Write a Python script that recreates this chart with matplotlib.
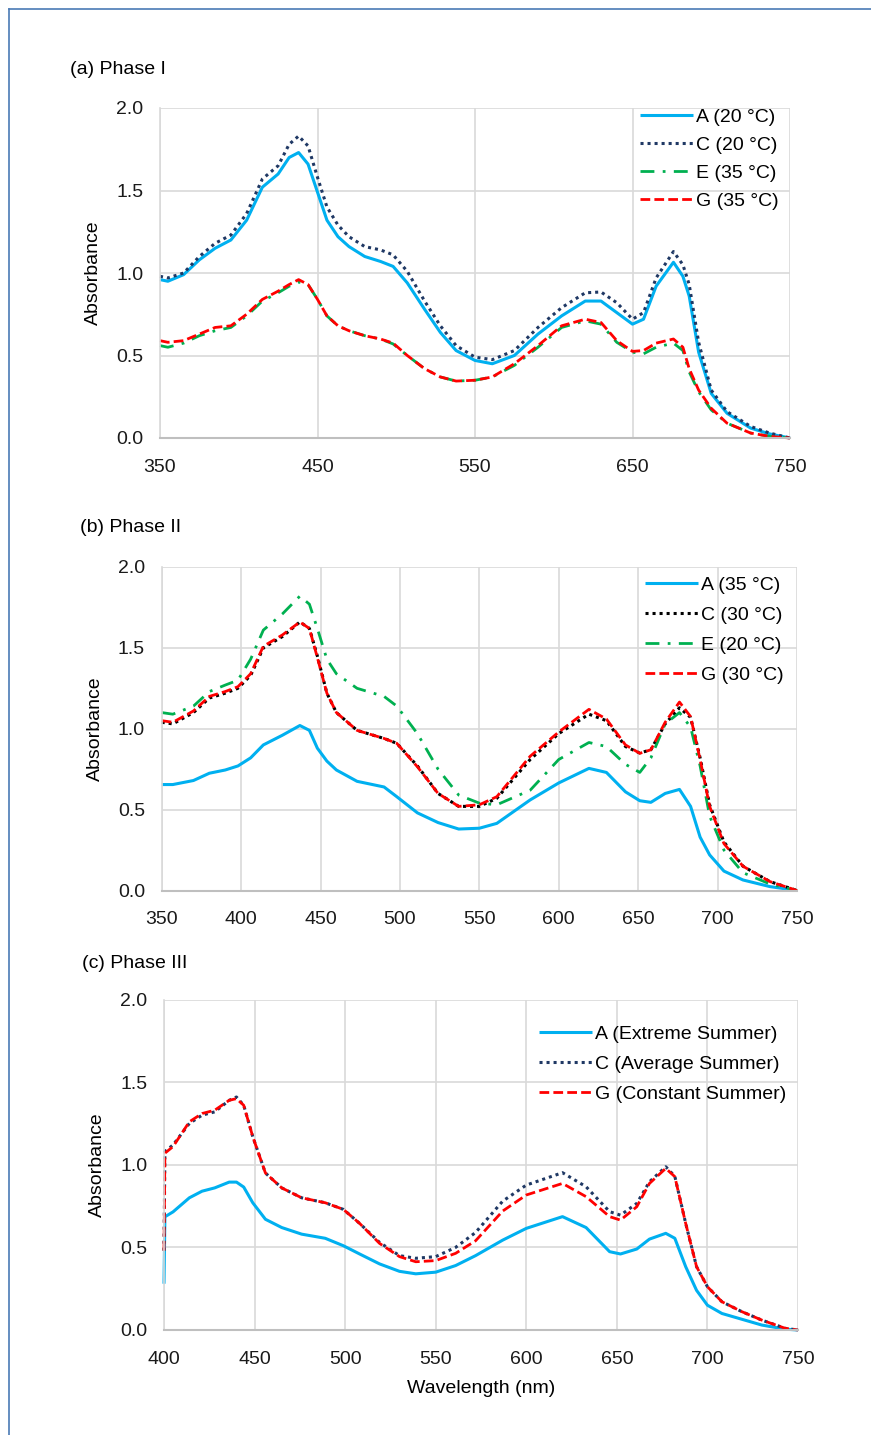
import matplotlib
matplotlib.use("Agg")
import matplotlib.pyplot as plt
from matplotlib.lines import Line2D

plt.rcParams['font.family'] = ['Liberation Sans', 'DejaVu Sans']
plt.rcParams['font.size'] = 14

# ---- Phase I data ----
wl_a = [350, 355, 365, 375, 385, 395, 405, 415, 425, 432, 438, 444, 450, 456, 463, 470,
        480, 490, 498, 507, 518, 528, 538, 550, 561, 575, 590, 605, 620, 630, 640, 650,
        657, 665, 676, 682, 686, 692, 700, 710, 725, 737, 750]
a_A = [0.96, 0.95, 0.99, 1.08, 1.15, 1.20, 1.32, 1.52, 1.60, 1.70, 1.73, 1.66, 1.49, 1.32,
       1.22, 1.16, 1.10, 1.07, 1.04, 0.94, 0.78, 0.64, 0.53, 0.47, 0.45, 0.50, 0.63, 0.74,
       0.83, 0.83, 0.76, 0.69, 0.72, 0.92, 1.065, 0.98, 0.86, 0.52, 0.27, 0.15, 0.06, 0.025, 0.0]
a_C = [0.98, 0.97, 1.00, 1.10, 1.18, 1.23, 1.36, 1.57, 1.65, 1.78, 1.83, 1.77, 1.58, 1.40,
       1.29, 1.22, 1.16, 1.14, 1.11, 1.01, 0.83, 0.68, 0.56, 0.49, 0.475, 0.53, 0.67, 0.79,
       0.88, 0.885, 0.82, 0.72, 0.76, 0.97, 1.13, 1.05, 0.93, 0.58, 0.29, 0.16, 0.07, 0.03, 0.0]
a_E = [0.56, 0.55, 0.575, 0.62, 0.65, 0.67, 0.74, 0.83, 0.88, 0.92, 0.945, 0.93, 0.84, 0.74,
       0.68, 0.65, 0.62, 0.60, 0.57, 0.50, 0.42, 0.37, 0.345, 0.35, 0.37, 0.44, 0.55, 0.67,
       0.71, 0.69, 0.58, 0.52, 0.51, 0.55, 0.575, 0.53, 0.40, 0.28, 0.17, 0.09, 0.03, 0.01, 0.0]
a_G = [0.59, 0.58, 0.59, 0.63, 0.67, 0.68, 0.75, 0.84, 0.89, 0.93, 0.96, 0.93, 0.84, 0.74,
       0.68, 0.65, 0.62, 0.60, 0.575, 0.50, 0.42, 0.37, 0.345, 0.35, 0.37, 0.45, 0.56, 0.68,
       0.72, 0.70, 0.59, 0.525, 0.53, 0.575, 0.60, 0.55, 0.42, 0.29, 0.18, 0.09, 0.03, 0.01, 0.0]

# ---- Phase II data ----
wl_b = [350, 357, 370, 380, 390, 398, 406, 414, 426, 437, 443, 448, 454, 460, 473, 490,
        498, 511, 524, 537, 550, 561, 582, 600, 619, 630, 642, 651, 658, 667, 676, 683,
        689, 695, 704, 716, 733, 750]
b_A = [0.655, 0.655, 0.68, 0.725, 0.745, 0.77, 0.82, 0.90, 0.96, 1.02, 0.99, 0.88, 0.80,
       0.745, 0.675, 0.64, 0.58, 0.48, 0.42, 0.38, 0.385, 0.415, 0.56, 0.665, 0.755, 0.73,
       0.61, 0.555, 0.545, 0.60, 0.625, 0.52, 0.33, 0.22, 0.12, 0.065, 0.024, 0.0]
b_C = [1.04, 1.03, 1.10, 1.19, 1.22, 1.25, 1.33, 1.50, 1.57, 1.66, 1.62, 1.45, 1.22, 1.10,
       0.99, 0.94, 0.91, 0.77, 0.60, 0.52, 0.52, 0.57, 0.81, 0.97, 1.09, 1.05, 0.89, 0.85,
       0.87, 1.03, 1.13, 1.07, 0.82, 0.53, 0.30, 0.15, 0.055, 0.0]
b_E = [1.10, 1.09, 1.14, 1.23, 1.27, 1.30, 1.43, 1.61, 1.71, 1.82, 1.77, 1.62, 1.43, 1.34,
       1.25, 1.20, 1.14, 0.97, 0.75, 0.59, 0.54, 0.53, 0.62, 0.81, 0.915, 0.89, 0.78, 0.73,
       0.82, 1.03, 1.10, 1.01, 0.77, 0.46, 0.25, 0.11, 0.04, 0.0]
b_G = [1.05, 1.04, 1.11, 1.20, 1.23, 1.26, 1.34, 1.51, 1.58, 1.66, 1.62, 1.44, 1.22, 1.10,
       0.99, 0.94, 0.91, 0.765, 0.60, 0.52, 0.53, 0.58, 0.83, 0.98, 1.12, 1.06, 0.90, 0.848,
       0.87, 1.04, 1.165, 1.075, 0.81, 0.52, 0.29, 0.15, 0.055, 0.0]

# ---- Phase III data ----
wl_c = [400, 400.5, 405, 414, 421, 428, 436, 440, 444, 449, 456, 465, 476, 489, 499, 508,
        519, 530, 539, 550, 561, 572, 587, 600, 620, 633, 646, 652, 661, 668, 677, 682,
        688, 694, 700, 708, 719, 730, 743, 750]
c_A = [0.28, 0.685, 0.715, 0.80, 0.84, 0.86, 0.895, 0.895, 0.865, 0.77, 0.67, 0.62, 0.58,
       0.555, 0.51, 0.46, 0.40, 0.355, 0.34, 0.35, 0.39, 0.45, 0.544, 0.615, 0.686, 0.62,
       0.474, 0.46, 0.49, 0.55, 0.585, 0.555, 0.383, 0.24, 0.15, 0.10, 0.065, 0.03, 0.005, 0.0]
c_C = [0.48, 1.08, 1.12, 1.25, 1.30, 1.32, 1.39, 1.41, 1.36, 1.17, 0.95, 0.86, 0.80, 0.77,
       0.73, 0.645, 0.53, 0.45, 0.434, 0.444, 0.50, 0.59, 0.78, 0.877, 0.952, 0.867, 0.716,
       0.695, 0.766, 0.897, 0.988, 0.93, 0.645, 0.383, 0.262, 0.171, 0.111, 0.06, 0.01, 0.0]
c_G = [0.48, 1.07, 1.11, 1.26, 1.31, 1.33, 1.39, 1.40, 1.36, 1.17, 0.95, 0.86, 0.80, 0.77,
       0.73, 0.645, 0.524, 0.444, 0.413, 0.42, 0.464, 0.54, 0.72, 0.817, 0.887, 0.807, 0.686,
       0.665, 0.746, 0.887, 0.978, 0.928, 0.645, 0.383, 0.262, 0.171, 0.111, 0.06, 0.01, 0.0]

CYAN = '#00b0f0'
NAVY = '#1f3864'
GREEN = '#00b050'
RED = '#ff0000'

W, H = 871, 1435
fig = plt.figure(figsize=(W / 100, H / 100), dpi=100)


def box(l, r, t, b):
    return [l / W, 1 - b / H, (r - l) / W, (b - t) / H]


def style(ax, xmin, xmax, xstep):
    ax.set_xlim(xmin, xmax)
    ax.set_ylim(0, 2.0)
    ax.set_xticks(range(xmin, xmax + 1, xstep))
    ax.set_yticks([0.0, 0.5, 1.0, 1.5, 2.0])
    ax.set_yticklabels(['0.0', '0.5', '1.0', '1.5', '2.0'])
    ax.grid(True, color='#d9d9d9', lw=1.2)
    ax.set_axisbelow(True)
    for s in ['top', 'right']:
        ax.spines[s].set_visible(False)
    ax.spines['left'].set_color('#d9d9d9')
    ax.spines['bottom'].set_color('#bfbfbf')
    ax.spines['left'].set_linewidth(1.2)
    ax.spines['bottom'].set_linewidth(1.5)
    ax.tick_params(length=0, labelsize=14, colors='#1a1a1a')
    ax.tick_params(axis='x', pad=15)
    ax.tick_params(axis='y', pad=12)
    ax.set_ylabel('Absorbance', fontsize=14, labelpad=10)


def draw(ax, x, series):
    for y, c, ls, lw in series:
        ax.plot(x, y, color=c, linestyle=ls, lw=lw, clip_on=False)


solid = (0, ())
dotted = (0, (1, 1.3))
dashdot = (0, (5, 3, 1, 3))
dashed = (0, (3.5, 1.5))


def legend(ax, handles, labels, anchor_px, spacing):
    # anchor_px: figure pixel (left of handle, top of first row)
    x = anchor_px[0] / W
    y = 1 - anchor_px[1] / H
    lg = ax.legend(handles, labels, loc='upper left', bbox_to_anchor=(x, y),
                   bbox_transform=fig.transFigure,
                   frameon=False, fontsize=14, handlelength=2.7, handletextpad=0.2,
                   labelspacing=spacing, borderaxespad=0, borderpad=0)
    return lg


# (a)
ax1 = fig.add_axes(box(160, 790, 108, 438))
style(ax1, 350, 750, 100)
draw(ax1, wl_a, [(a_A, CYAN, solid, 2.2), (a_C, NAVY, dotted, 2.2),
                 (a_E, GREEN, dashdot, 2.0), (a_G, RED, dashed, 2.0)])
h1 = [Line2D([], [], color=CYAN, ls=solid, lw=2.2), Line2D([], [], color=NAVY, ls=dotted, lw=2.2),
      Line2D([], [], color=GREEN, ls=dashdot, lw=2.0), Line2D([], [], color=RED, ls=dashed, lw=2.0)]
legend(ax1, h1, ['A (20 °C)', 'C (20 °C)', 'E (35 °C)', 'G (35 °C)'], (640, 108), 0.54)
fig.text(70 / W, 1 - 70 / H, '(a) Phase I', fontsize=14, va='center', ha='left')

# (b)
ax2 = fig.add_axes(box(161.7, 797, 567, 890.5))
style(ax2, 350, 750, 50)
draw(ax2, wl_b, [(b_A, CYAN, solid, 2.2), (b_C, 'black', dotted, 2.2),
                 (b_E, GREEN, dashdot, 2.0), (b_G, RED, dashed, 2.0)])
h2 = [Line2D([], [], color=CYAN, ls=solid, lw=2.2), Line2D([], [], color='black', ls=dotted, lw=2.2),
      Line2D([], [], color=GREEN, ls=dashdot, lw=2.0), Line2D([], [], color=RED, ls=dashed, lw=2.0)]
legend(ax2, h2, ['A (35 °C)', 'C (30 °C)', 'E (20 °C)', 'G (30 °C)'], (645, 576), 0.64)
fig.text(80 / W, 1 - 527 / H, '(b) Phase II', fontsize=14, va='center', ha='left')

# (c)
ax3 = fig.add_axes(box(164, 798, 999.5, 1330))
style(ax3, 400, 750, 50)
draw(ax3, wl_c, [(c_A, CYAN, solid, 2.2), (c_C, NAVY, dotted, 2.2), (c_G, RED, dashed, 2.0)])
ax3.set_xlabel('Wavelength (nm)', fontsize=14, labelpad=9)
h3 = [Line2D([], [], color=CYAN, ls=solid, lw=2.2), Line2D([], [], color=NAVY, ls=dotted, lw=2.2),
      Line2D([], [], color=RED, ls=dashed, lw=2.0)]
legend(ax3, h3, ['A (Extreme Summer)', 'C (Average Summer)', 'G (Constant Summer)'], (539, 1025), 0.64)
fig.text(82 / W, 1 - 964 / H, '(c) Phase III', fontsize=14, va='center', ha='left')

# frame lines (left and top)
fig.add_artist(Line2D([8.5 / W, 8.5 / W], [0, 1 - 8.5 / H], color='#4a7ab5', lw=1.2))
fig.add_artist(Line2D([8.5 / W, 1], [1 - 8.5 / H, 1 - 8.5 / H], color='#4a7ab5', lw=1.2))

fig.savefig('out.png', dpi=100)
